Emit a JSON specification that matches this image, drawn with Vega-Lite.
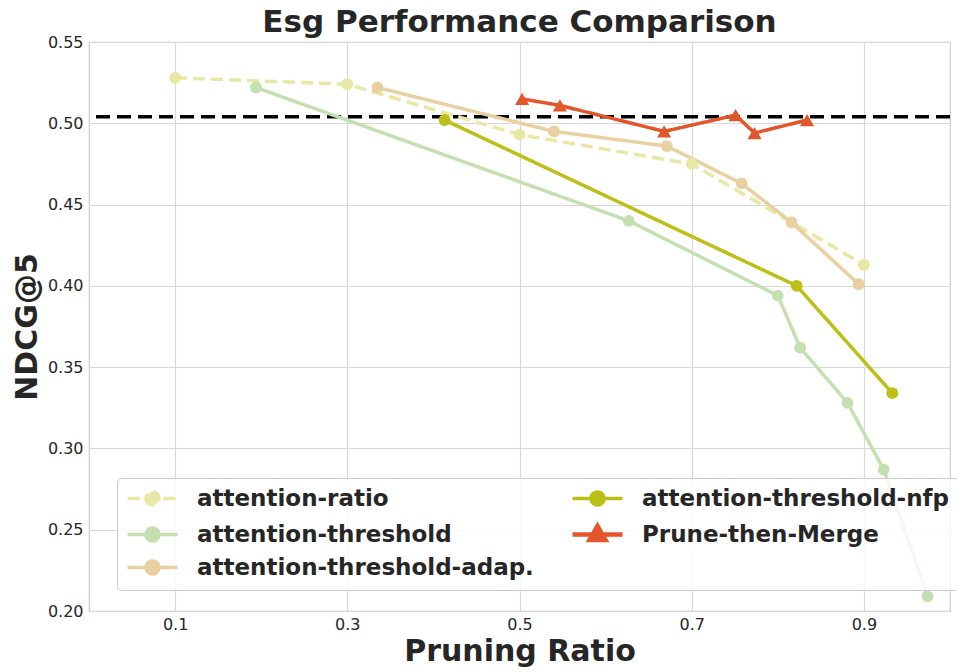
{
  "$schema": "https://vega.github.io/schema/vega-lite/v6.json",
  "width": 861,
  "height": 569,
  "autosize": {"type": "none"},
  "padding": {"left": 89, "top": 42, "right": 7, "bottom": 61},
  "background": "white",
  "config": {
    "font": "DejaVu Sans",
    "view": {"stroke": "#cccccc", "strokeWidth": 1.2},
    "axis": {
      "grid": true,
      "gridColor": "#d9d9d9",
      "gridWidth": 1.2,
      "domain": false,
      "ticks": false,
      "labelFont": "DejaVu Sans",
      "labelFontSize": 16,
      "labelColor": "#262626",
      "titleFont": "DejaVu Sans",
      "titleFontSize": 30,
      "titleFontWeight": "bold",
      "titleColor": "#262626"
    }
  },
  "title": {
    "text": "Esg Performance Comparison",
    "font": "DejaVu Sans",
    "fontSize": 31,
    "fontWeight": "bold",
    "color": "#262626",
    "offset": -5
  },
  "resolve": {"legend": {"color": "independent", "strokeDash": "independent"}},
  "layer": [
    {
      "data": {"values": [{"ndcg": 0.504}]},
      "mark": {"type": "rule", "color": "black", "strokeWidth": 3.5, "strokeDash": [14, 7]},
      "encoding": {
        "y": {"field": "ndcg", "type": "quantitative"}
      }
    },
    {
      "data": {"name": "main"},
      "mark": {"type": "line", "strokeCap": "butt"},
      "encoding": {
        "x": {
          "field": "ratio", "type": "quantitative",
          "scale": {"domain": [0, 1.0], "nice": false, "zero": false},
          "axis": {"title": "Pruning Ratio", "values": [0.1, 0.3, 0.5, 0.7, 0.9], "format": ".1f", "labelPadding": 5, "titlePadding": 4}
        },
        "y": {
          "field": "ndcg", "type": "quantitative",
          "scale": {"domain": [0.2, 0.55], "nice": false, "zero": false},
          "axis": {"title": "NDCG@5", "values": [0.2, 0.25, 0.3, 0.35, 0.4, 0.45, 0.5, 0.55], "format": ".2f", "labelPadding": 6, "titlePadding": 5}
        },
        "order": {"field": "o", "type": "quantitative"},
        "color": {
          "field": "series", "type": "nominal",
          "scale": {
            "domain": ["attention-ratio", "attention-threshold", "attention-threshold-adap.", "attention-threshold-nfp", "Prune-then-Merge"],
            "range": ["#e6e8a4", "#c4e0b1", "#e8d0a0", "#bcbf16", "#e2562b"]
          },
          "legend": {
            "title": null,
            "orient": "none",
            "legendX": 28,
            "legendY": 436,
            "direction": "vertical",
            "columns": 2,
            "columnPadding": 29,
            "rowPadding": 5,
            "padding": 9,
            "fillColor": "rgba(255,255,255,0.8)",
            "strokeColor": "#cccccc",
            "cornerRadius": 4,
            "symbolSize": 400,
            "symbolType": "M-1,0L4,0M0.85,0A0.65,0.65 0 1,0 2.15,0A0.65,0.65 0 1,0 0.85,0Z",
            "symbolStrokeWidth": 3.5,
            "symbolOpacity": 1,
            "labelFont": "DejaVu Sans",
            "labelFontSize": 23,
            "labelFontWeight": "bold",
            "labelColor": "#262626",
            "labelOffset": 48,
            "labelLimit": 500,
            "encode": {
              "symbols": {
                "update": {
                  "fill": {"scale": "color", "field": "value"},
                  "shape": {"signal": "datum.value === 'Prune-then-Merge' ? 'M-1,0L4,0M1.5,-0.85L2.3,0.55L0.7,0.55Z' : 'M-1,0L4,0M0.85,0A0.65,0.65 0 1,0 2.15,0A0.65,0.65 0 1,0 0.85,0Z'"},
                  "strokeWidth": {"signal": "datum.value === 'Prune-then-Merge' ? 4.5 : 3.5"}
                }
              }
            }
          }
        },
        "strokeDash": {
          "field": "series", "type": "nominal",
          "scale": {
            "domain": ["attention-ratio", "attention-threshold", "attention-threshold-adap.", "attention-threshold-nfp", "Prune-then-Merge"],
            "range": [[12, 6], [1, 0], [1, 0], [1, 0], [1, 0]]
          },
          "legend": null
        },
        "strokeWidth": {
          "field": "series", "type": "nominal",
          "scale": {
            "domain": ["attention-ratio", "attention-threshold", "attention-threshold-adap.", "attention-threshold-nfp", "Prune-then-Merge"],
            "range": [3.5, 3.5, 3.5, 3.5, 4.5]
          },
          "legend": null
        }
      }
    },
    {
      "data": {"name": "main"},
      "transform": [{"filter": "datum.series !== 'Prune-then-Merge'"}],
      "mark": {"type": "point", "shape": "circle", "filled": true, "opacity": 1, "size": 140},
      "encoding": {
        "x": {"field": "ratio", "type": "quantitative"},
        "y": {"field": "ndcg", "type": "quantitative"},
        "color": {"field": "series", "type": "nominal", "legend": null}
      }
    },
    {
      "data": {"name": "main"},
      "transform": [{"filter": "datum.series === 'Prune-then-Merge'"}],
      "mark": {"type": "point", "shape": "triangle-up", "filled": true, "opacity": 1, "size": 200},
      "encoding": {
        "x": {"field": "ratio", "type": "quantitative"},
        "y": {"field": "ndcg", "type": "quantitative"},
        "color": {"field": "series", "type": "nominal", "legend": null}
      }
    }
  ],
  "datasets": {
    "main": [
      {"series": "attention-ratio", "o": 1, "ratio": 0.1, "ndcg": 0.528},
      {"series": "attention-ratio", "o": 2, "ratio": 0.3, "ndcg": 0.524},
      {"series": "attention-ratio", "o": 3, "ratio": 0.5, "ndcg": 0.493},
      {"series": "attention-ratio", "o": 4, "ratio": 0.7, "ndcg": 0.475},
      {"series": "attention-ratio", "o": 5, "ratio": 0.9, "ndcg": 0.413},
      {"series": "attention-threshold", "o": 1, "ratio": 0.194, "ndcg": 0.522},
      {"series": "attention-threshold", "o": 2, "ratio": 0.627, "ndcg": 0.44},
      {"series": "attention-threshold", "o": 3, "ratio": 0.8, "ndcg": 0.394},
      {"series": "attention-threshold", "o": 4, "ratio": 0.826, "ndcg": 0.362},
      {"series": "attention-threshold", "o": 5, "ratio": 0.881, "ndcg": 0.328},
      {"series": "attention-threshold", "o": 6, "ratio": 0.923, "ndcg": 0.287},
      {"series": "attention-threshold", "o": 7, "ratio": 0.974, "ndcg": 0.209},
      {"series": "attention-threshold-adap.", "o": 1, "ratio": 0.335, "ndcg": 0.522},
      {"series": "attention-threshold-adap.", "o": 2, "ratio": 0.54, "ndcg": 0.495},
      {"series": "attention-threshold-adap.", "o": 3, "ratio": 0.671, "ndcg": 0.486},
      {"series": "attention-threshold-adap.", "o": 4, "ratio": 0.758, "ndcg": 0.463},
      {"series": "attention-threshold-adap.", "o": 5, "ratio": 0.816, "ndcg": 0.439},
      {"series": "attention-threshold-adap.", "o": 6, "ratio": 0.894, "ndcg": 0.401},
      {"series": "attention-threshold-nfp", "o": 1, "ratio": 0.413, "ndcg": 0.502},
      {"series": "attention-threshold-nfp", "o": 2, "ratio": 0.822, "ndcg": 0.4},
      {"series": "attention-threshold-nfp", "o": 3, "ratio": 0.933, "ndcg": 0.334},
      {"series": "Prune-then-Merge", "o": 1, "ratio": 0.503, "ndcg": 0.515},
      {"series": "Prune-then-Merge", "o": 2, "ratio": 0.547, "ndcg": 0.511},
      {"series": "Prune-then-Merge", "o": 3, "ratio": 0.668, "ndcg": 0.495},
      {"series": "Prune-then-Merge", "o": 4, "ratio": 0.751, "ndcg": 0.505},
      {"series": "Prune-then-Merge", "o": 5, "ratio": 0.773, "ndcg": 0.494},
      {"series": "Prune-then-Merge", "o": 6, "ratio": 0.834, "ndcg": 0.502}
    ]
  }
}
